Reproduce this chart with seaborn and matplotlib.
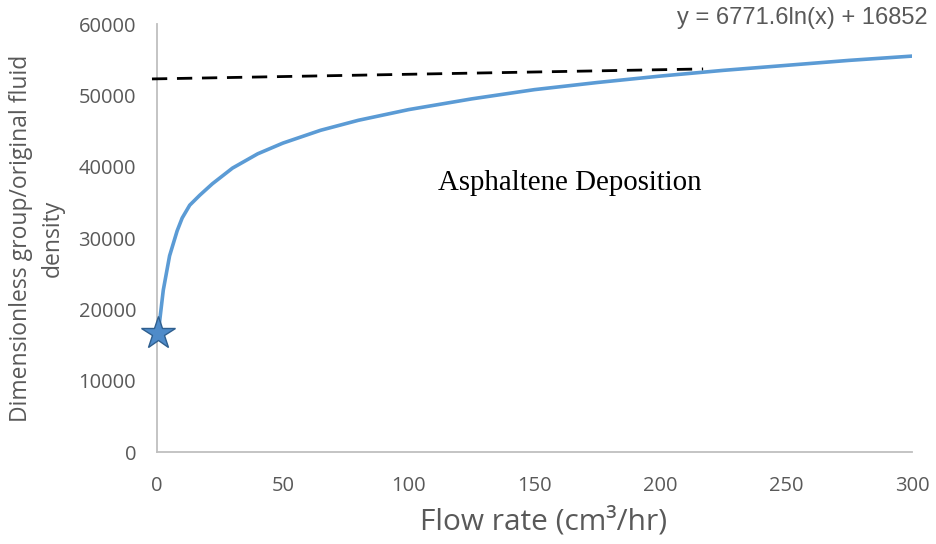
import matplotlib
matplotlib.use("Agg")
import matplotlib.pyplot as plt
import seaborn as sns
import pandas as pd

# Data
flow_rate = [0.5, 2.5, 5, 8, 10, 13, 17, 22, 30, 40, 50, 65, 80, 100, 125, 150, 175, 200, 225, 250, 275, 300]
dimless = [16700, 22700, 27500, 31000, 32800, 34600, 36000, 37600, 39800, 41800, 43300, 45100, 46500,
           48000, 49500, 50800, 51800, 52700, 53500, 54200, 54900, 55500]
star_x = [0.5]
star_y = [16700]
dash_x = [-2, 217]
dash_y = [52300, 53700]
x_ticks = [0, 50, 100, 150, 200, 250, 300]
y_ticks = [0, 10000, 20000, 30000, 40000, 50000, 60000]
equation = "y = 6771.6ln(x) + 16852"
annotation = "Asphaltene Deposition"

sns.set_style("white")
plt.rcParams['font.family'] = ['Open Sans', 'DejaVu Sans']

fig = plt.figure(figsize=(9.36, 5.44), dpi=100)
ax = fig.add_axes([157/936, 1-452/544, (912-157)/936, (452-24)/544])

df = pd.DataFrame({"x": flow_rate, "y": dimless})
sns.lineplot(data=df, x="x", y="y", ax=ax, color="#5B9BD5", linewidth=2.6, estimator=None, sort=True)
ax.plot(dash_x, dash_y, color="black", linewidth=2.0, dashes=(5.5, 3.5), clip_on=False, zorder=3)
ax.plot(star_x, star_y, marker="*", markersize=25, markerfacecolor="#4F8BC9",
        markeredgecolor="#2F5F8F", markeredgewidth=1.0, linestyle="none", clip_on=False, zorder=4)

ax.set_xlim(0, 300)
ax.set_ylim(0, 60000)
ax.set_xticks(x_ticks)
ax.set_yticks(y_ticks)
ax.set_xticklabels([str(v) for v in x_ticks])
ax.set_yticklabels([str(v) for v in y_ticks])
ax.tick_params(axis="both", length=0, labelsize=14.5, colors="#595959")
ax.tick_params(axis="y", pad=15)
ax.tick_params(axis="x", pad=17)

for s in ["top", "right"]:
    ax.spines[s].set_visible(False)
for s in ["left", "bottom"]:
    ax.spines[s].set_color("#BFBFBF")
    ax.spines[s].set_linewidth(1.3)

ax.set_xlabel("Flow rate (cm³/hr)", fontsize=21.5, color="#595959")
ax.xaxis.set_label_coords((544-157)/755, -(522-452)/428, transform=ax.transAxes)
ax.xaxis.label.set_va("center")
ax.set_ylabel("Dimensionless group/original fluid\ndensity", fontsize=16.5, color="#595959", linespacing=1.45)
ax.yaxis.set_label_coords(-(157-37)/755, 0.5)
ax.yaxis.label.set_va("center")

ax.text(164, 37700, annotation, family="Liberation Serif", fontsize=20.8, color="black",
        ha="center", va="center")
fig.text(928/936, 1-18/544, equation, family="Liberation Sans", fontsize=17, color="#595959",
         ha="right", va="center")

fig.savefig("out.png", dpi=100)
